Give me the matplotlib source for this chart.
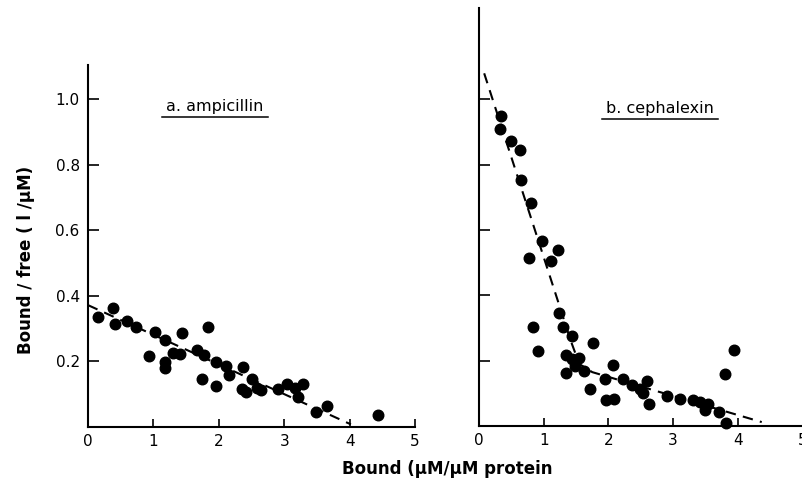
import matplotlib
matplotlib.use("Agg")
import matplotlib.pyplot as plt
from matplotlib.lines import Line2D

# a. ampicillin -- Scatchard points
amp_bound = [0.15, 0.38, 0.41, 0.60, 0.73, 1.02, 0.94, 1.18, 1.18, 1.18, 1.30, 1.41,
             1.43, 1.66, 1.77, 1.84, 1.74, 1.96, 1.96, 2.11, 2.16, 2.37, 2.35, 2.41,
             2.51, 2.59, 2.64, 2.90, 3.04, 3.17, 3.29, 3.21, 3.49, 3.66, 4.43]
amp_ratio = [0.337, 0.362, 0.314, 0.324, 0.304, 0.291, 0.216, 0.265, 0.199, 0.181,
             0.227, 0.224, 0.286, 0.235, 0.220, 0.304, 0.145, 0.197, 0.124, 0.186,
             0.158, 0.182, 0.117, 0.107, 0.148, 0.120, 0.112, 0.117, 0.131, 0.120,
             0.130, 0.092, 0.046, 0.064, 0.036]
amp_fit_x = [0.0, 4.02]
amp_fit_y = [0.372, 0.008]

# b. cephalexin
ceph_bound = [0.34, 0.33, 0.50, 0.63, 0.65, 0.80, 0.97, 0.77, 1.12, 1.22, 1.23, 1.30,
              0.84, 0.91, 1.43, 1.34, 1.44, 1.55, 1.48, 1.34, 1.63, 1.76, 1.71, 1.95,
              2.07, 1.96, 2.08, 2.23, 2.36, 2.49, 2.54, 2.60, 2.62, 2.90, 3.10, 3.31,
              3.41, 3.54, 3.50, 3.71, 3.82, 3.80, 3.94]
ceph_ratio = [0.949, 0.908, 0.872, 0.846, 0.754, 0.683, 0.565, 0.514, 0.504, 0.539,
              0.345, 0.304, 0.304, 0.229, 0.275, 0.217, 0.204, 0.207, 0.183, 0.163,
              0.168, 0.253, 0.112, 0.145, 0.186, 0.079, 0.084, 0.145, 0.125, 0.112,
              0.101, 0.137, 0.066, 0.091, 0.082, 0.081, 0.074, 0.066, 0.050, 0.043,
              0.009, 0.158, 0.232]
ceph_fit_x = [0.08, 1.42, 1.55, 1.75, 4.37]
ceph_fit_y = [1.08, 0.26, 0.19, 0.165, 0.012]

xticks = [0, 1, 2, 3, 4, 5]
yticks = [0.2, 0.4, 0.6, 0.8, 1.0]

W, H = 802, 478
fig = plt.figure(figsize=(W / 100, H / 100), dpi=100)

# axes boxes in pixels
ax1 = fig.add_axes([88 / W, (H - 427) / H, 327 / W, 362 / H])
ax2 = fig.add_axes([479 / W, (H - 426) / H, 323.5 / W, 418 / H])


def style(ax, ymax, show_ylabels):
    ax.set_xlim(0, 5)
    ax.set_ylim(0, ymax)
    for s in ("top", "right"):
        ax.spines[s].set_visible(False)
    for s in ("left", "bottom"):
        ax.spines[s].set_linewidth(1.5)
    ax.set_xticks(xticks)
    ax.set_xticklabels([str(t) for t in xticks])
    ax.set_yticks(yticks)
    if show_ylabels:
        ax.set_yticklabels(["%.1f" % t for t in yticks])
    else:
        ax.set_yticklabels([])
    ax.tick_params(axis="x", direction="in", length=6, width=1.2, pad=5, labelsize=11)
    ax.tick_params(axis="y", direction="in", length=8, width=1.2, pad=6, labelsize=11)


style(ax1, 1.105, True)
style(ax2, 1.28, False)

ax1.plot(amp_fit_x, amp_fit_y, color="black", lw=1.5, dashes=(5, 3.5))
ax1.plot(amp_bound, amp_ratio, "o", color="black", ms=7.6, clip_on=False)

ax2.plot(ceph_fit_x, ceph_fit_y, color="black", lw=1.5, dashes=(5, 3.5))
ax2.plot(ceph_bound, ceph_ratio, "o", color="black", ms=7.6, clip_on=False)

t1 = ax1.text(1.94, 0.977, "a. ampicillin", ha="center", va="center", fontsize=11.5)
t2 = ax2.text(2.80, 0.972, "b. cephalexin", ha="center", va="center", fontsize=11.5)

fig.text(26 / W, 1 - 260 / H, "Bound / free ( l /\u03bcM)", rotation=90,
         ha="center", va="center", fontsize=12, fontweight="bold")
fig.text(447 / W, 1 - 469 / H, "Bound (\u03bcM/\u03bcM protein",
         ha="center", va="center", fontsize=12, fontweight="bold")

# underline the panel titles
fig.canvas.draw()
for t in (t1, t2):
    bb = t.get_window_extent()
    y = bb.y0 - 3
    fig.add_artist(Line2D([(bb.x0 - 4) / W, (bb.x1 + 4) / W], [y / H, y / H],
                          color="black", lw=1.1, transform=fig.transFigure))

fig.savefig("out.png", dpi=100)
